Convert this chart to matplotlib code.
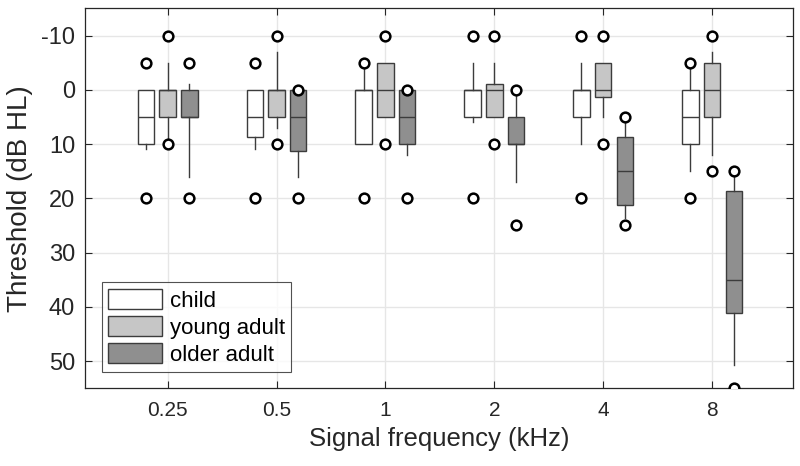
import matplotlib
matplotlib.use("Agg")
import matplotlib.pyplot as plt
from matplotlib.patches import Patch

plt.rcParams['font.family'] = ['Liberation Sans', 'DejaVu Sans']
plt.rcParams['axes.unicode_minus'] = False

freq_labels = ['0.25', '0.5', '1', '2', '4', '8']
groups = ['child', 'young adult', 'older adult']
colors = ['#ffffff', '#c6c6c6', '#8f8f8f']

# box statistics (dB HL)
child_q1 = [0, 0, 0, 0, 0, 0]
child_med = [5, 5, 0, 0, 0, 5]
child_q3 = [10, 8.7, 10, 5, 5, 10]
child_lo = [0, 0, -4.5, -5, -5, -4.5]
child_hi = [11, 11, 10, 6, 10, 15]
child_out = [[-5, 20], [-5, 20], [-5, 20], [-10, 20], [-10, 20], [-5, 20]]

young_q1 = [0, 0, -5, -1, -5, -5]
young_med = [0, 0, 0, 0, 0, 0]
young_q3 = [5, 5, 5, 5, 1.3, 5]
young_lo = [-5, -7, -5, -5, -5, -7]
young_hi = [9, 7, 5, 5, 5, 12]
young_out = [[-10, 10], [-10, 10], [-10, 10], [-10, 10], [-10, 10], [-10, 15]]

older_q1 = [0, 0, 0, 5, 8.7, 18.7]
older_med = [5, 5, 5, 10, 15, 35]
older_q3 = [5, 11.2, 10, 10, 21.2, 41.1]
older_lo = [-1, 0, 0, 0.5, 5.5, 15.5]
older_hi = [16, 16, 12, 17, 23.7, 50.8]
older_out = [[-5, 20], [0, 20], [0, 20], [0, 25], [5, 25], [15, 55]]

series = [
    (child_q1, child_med, child_q3, child_lo, child_hi, child_out),
    (young_q1, young_med, young_q3, young_lo, young_hi, young_out),
    (older_q1, older_med, older_q3, older_lo, older_hi, older_out),
]
offsets = [-0.2, 0.0, 0.2]
edge = '#3c3c3c'
txt = '#262626'

fig = plt.figure(figsize=(8, 4.66), dpi=100)
ax = fig.add_axes([0.106, 0.167, 0.885, 0.815])

for (q1, med, q3, lo, hi, out), off, col in zip(series, offsets, colors):
    stats = []
    for i in range(len(freq_labels)):
        stats.append(dict(q1=q1[i], med=med[i], q3=q3[i],
                          whislo=lo[i], whishi=hi[i], fliers=out[i]))
    pos = [i + 1 + off for i in range(len(freq_labels))]
    ax.bxp(stats, positions=pos, widths=0.15, patch_artist=True,
           showcaps=False, manage_ticks=False,
           boxprops=dict(facecolor=col, edgecolor=edge, linewidth=1.0),
           medianprops=dict(color=edge, linewidth=1.0),
           whiskerprops=dict(color=edge, linewidth=1.0),
           flierprops=dict(marker='o', markerfacecolor='white',
                           markeredgecolor='black', markersize=7,
                           markeredgewidth=1.8),
           zorder=3)

ax.set_xlim(0.24, 6.74)
ax.set_ylim(55, -15)
ax.set_xticks(range(1, len(freq_labels) + 1))
ax.set_xticklabels(freq_labels, fontsize=15)
ax.set_yticks([-10, 0, 10, 20, 30, 40, 50])
ax.grid(True, color='#e6e6e6', linewidth=1.0, zorder=0)
ax.set_axisbelow(True)
ax.tick_params(direction='in', top=True, right=True,
               colors=txt, length=5, width=0.8)
ax.tick_params(axis='x', pad=9)
ax.tick_params(axis='y', labelsize=17, pad=7)
for sp in ax.spines.values():
    sp.set_color(txt)
    sp.set_linewidth(0.9)

ax.set_xlabel('Signal frequency (kHz)', fontsize=18.5, color=txt, labelpad=5)
ax.set_ylabel('Threshold (dB HL)', fontsize=20, color=txt, labelpad=6)

handles = [Patch(facecolor=c, edgecolor=edge, linewidth=1.0) for c in colors]
leg = ax.legend(handles, groups, loc='lower left', bbox_to_anchor=(0.024, 0.042),
                fontsize=16, frameon=True, fancybox=False, handlelength=2.4,
                handleheight=1.0, handletextpad=0.35, labelspacing=0.2,
                borderpad=0.3, borderaxespad=0)
leg.get_frame().set_edgecolor(txt)
leg.get_frame().set_linewidth(0.8)

fig.savefig('out.png', dpi=100)
